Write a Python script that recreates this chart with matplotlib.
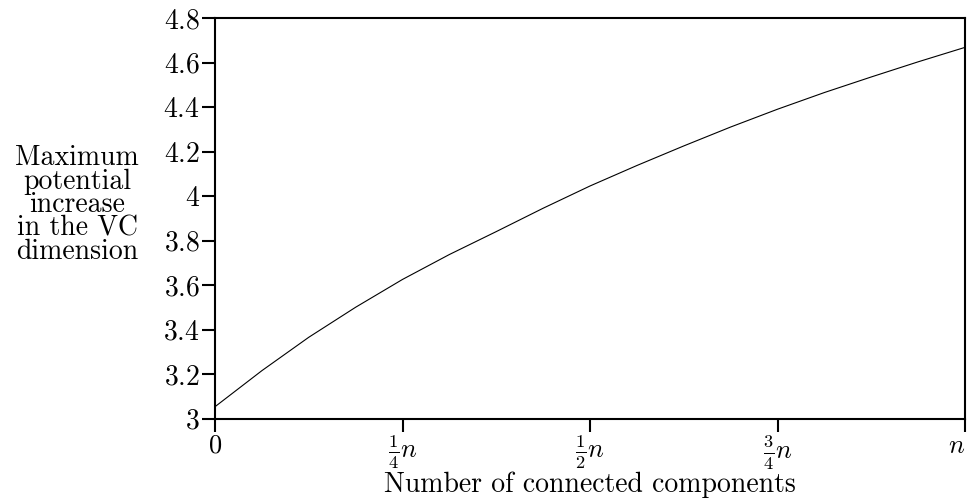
import matplotlib
matplotlib.use("Agg")
import matplotlib.pyplot as plt

# Data (x as fraction of n)
x_frac = [0.0, 0.0625, 0.125, 0.1875, 0.25, 0.3125, 0.375, 0.4375, 0.5,
          0.5625, 0.625, 0.6875, 0.75, 0.8125, 0.875, 0.9375, 1.0]
vc_increase = [3.053, 3.215, 3.365, 3.50, 3.625, 3.737, 3.84, 3.945, 4.045,
               4.137, 4.225, 4.31, 4.39, 4.465, 4.535, 4.603, 4.668]

x_ticks = [0, 0.25, 0.5, 0.75, 1.0]
x_ticklabels = ["$0$", r"$\frac{1}{4}n$", r"$\frac{1}{2}n$", r"$\frac{3}{4}n$", "$n$"]
y_ticks = [3.0, 3.2, 3.4, 3.6, 3.8, 4.0, 4.2, 4.4, 4.6, 4.8]
y_ticklabels = ["3", "3.2", "3.4", "3.6", "3.8", "4", "4.2", "4.4", "4.6", "4.8"]

plt.rcParams["mathtext.fontset"] = "cm"
plt.rcParams["font.family"] = ["cmr10", "DejaVu Serif"]
plt.rcParams["axes.formatter.use_mathtext"] = True

fig = plt.figure(figsize=(9.71, 5.04), dpi=100)
W, H = 971, 504
left, right, top, bottom = 215, 965, 18, 418.5
ax = fig.add_axes([left / W, (H - bottom) / H, (right - left) / W, (bottom - top) / H])

ax.plot(x_frac, vc_increase, color="black", linewidth=0.8)
ax.set_xlim(0, 1)
ax.set_ylim(3.0, 4.8)

ax.set_xticks(x_ticks)
ax.set_xticklabels(x_ticklabels, fontsize=19)
ax.set_yticks(y_ticks)
ax.set_yticklabels([f"${t}$" for t in y_ticklabels], fontsize=20)
# keep the rightmost "n" inside the figure
ax.get_xticklabels()[-1].set_horizontalalignment("right")
ax.get_xticklabels()[-1].set_x(1.0)

for s in ax.spines.values():
    s.set_linewidth(1.5)
ax.tick_params(axis="both", direction="out", length=9.5, width=1.5, pad=1.5)

ax.set_xlabel("Number of connected components", fontsize=20, labelpad=0)
fig.text(77 / W, 1 - 205 / H, "Maximum\npotential\nincrease\nin the VC\ndimension",
         ha="center", va="center", fontsize=20, linespacing=0.86)

fig.savefig("out.png", dpi=100)
